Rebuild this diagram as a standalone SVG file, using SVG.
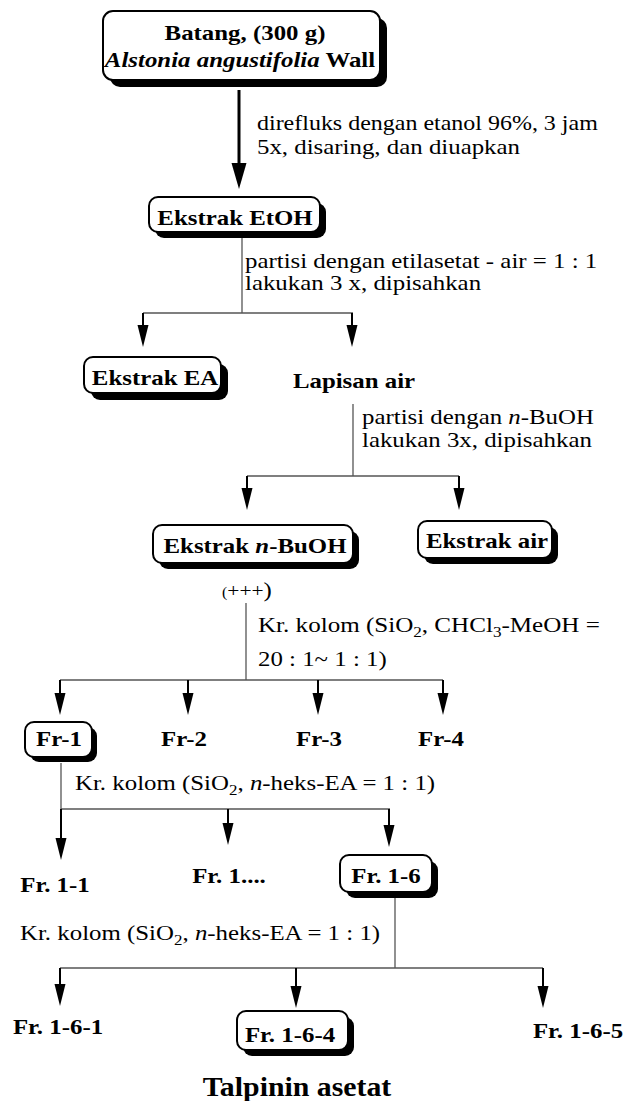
<svg xmlns="http://www.w3.org/2000/svg" xmlns:xlink="http://www.w3.org/1999/xlink" width="627" height="1101" viewBox="0 0 627 1101">
<defs>
<style>
.t{font-family:"Liberation Serif","Times New Roman",serif;font-size:22px;fill:#000}
.b{font-weight:bold}
.i{font-style:italic}
.sh{fill:#000}
.bx{fill:#fff;stroke:#000;stroke-width:2}
.ln{stroke:#555;stroke-width:1.3;fill:none}
.sf{stroke:#000;stroke-width:2;fill:none}
</style>
<path id="ah" d="M-5.5,-22 L5.5,-22 L0,0 Z" fill="#000"/>
<path id="ahb" d="M-7.5,-26 L7.5,-26 L0,0 Z" fill="#000"/>
</defs>
<rect width="627" height="1101" fill="#fff"/>

<g id="connectors">
  <line class="sf" x1="239" y1="90" x2="239" y2="166" style="stroke-width:3"/>
  <use xlink:href="#ahb" x="239" y="189"/>

  <line class="ln" x1="242" y1="238" x2="242" y2="313"/>
  <line class="ln" x1="143" y1="313" x2="353" y2="313"/>
  <line class="sf" x1="143" y1="313" x2="143" y2="326"/>
  <use xlink:href="#ah" x="143" y="347"/>
  <line class="sf" x1="352" y1="313" x2="352" y2="326"/>
  <use xlink:href="#ah" x="352" y="347"/>

  <line class="ln" x1="353" y1="404" x2="353" y2="476"/>
  <line class="ln" x1="247" y1="476" x2="459" y2="476"/>
  <line class="sf" x1="247" y1="476" x2="247" y2="489"/>
  <use xlink:href="#ah" x="247" y="510"/>
  <line class="sf" x1="459" y1="476" x2="459" y2="489"/>
  <use xlink:href="#ah" x="459" y="510"/>

  <line class="ln" x1="246" y1="603" x2="246" y2="680"/>
  <line class="ln" x1="60" y1="680" x2="443" y2="680"/>
  <line class="sf" x1="60" y1="680" x2="60" y2="694"/>
  <use xlink:href="#ah" x="60" y="715"/>
  <line class="sf" x1="188" y1="680" x2="188" y2="694"/>
  <use xlink:href="#ah" x="188" y="715"/>
  <line class="sf" x1="318" y1="680" x2="318" y2="694"/>
  <use xlink:href="#ah" x="318" y="715"/>
  <line class="sf" x1="443" y1="680" x2="443" y2="694"/>
  <use xlink:href="#ah" x="443" y="715"/>

  <line class="ln" x1="61" y1="763" x2="61" y2="809"/>
  <line class="ln" x1="61" y1="809" x2="390" y2="809"/>
  <line class="sf" x1="61" y1="809" x2="61" y2="839"/>
  <use xlink:href="#ah" x="61" y="860"/>
  <line class="sf" x1="228" y1="809" x2="228" y2="824"/>
  <use xlink:href="#ah" x="228" y="845"/>
  <line class="sf" x1="389" y1="809" x2="389" y2="826"/>
  <use xlink:href="#ah" x="389" y="847"/>

  <line class="ln" x1="395" y1="897" x2="395" y2="968"/>
  <line class="ln" x1="60" y1="968" x2="543" y2="968"/>
  <line class="sf" x1="60" y1="968" x2="60" y2="985"/>
  <use xlink:href="#ah" x="60" y="1006"/>
  <line class="sf" x1="296" y1="968" x2="296" y2="987"/>
  <use xlink:href="#ah" x="296" y="1008"/>
  <line class="sf" x1="543" y1="968" x2="543" y2="987"/>
  <use xlink:href="#ah" x="543" y="1008"/>
</g>

<g id="labels">
  <text class="t" transform="translate(257,130) scale(1.09,1)">direfluks dengan etanol 96%, 3 jam</text>
  <text class="t" transform="translate(257,154) scale(1.13,1)">5x, disaring, dan diuapkan</text>
  <text class="t" transform="translate(245,268) scale(1.13,1)">partisi dengan etilasetat - air = 1 : 1</text>
  <text class="t" transform="translate(245,290) scale(1.13,1)">lakukan 3 x, dipisahkan</text>
  <text class="t" transform="translate(362,424) scale(1.13,1)">partisi dengan <tspan class="i">n</tspan>-BuOH</text>
  <text class="t" transform="translate(362,447) scale(1.13,1)">lakukan 3x, dipisahkan</text>
  <text class="t" transform="translate(222,597) scale(1.13,1)"><tspan font-size="14">(</tspan><tspan font-size="19">+++</tspan>)</text>
  <text class="t" transform="translate(258,632) scale(1.14,1)">Kr. kolom (SiO<tspan font-size="15" dy="5">2</tspan><tspan dy="-5">, CHCl</tspan><tspan font-size="15" dy="5">3</tspan><tspan dy="-5">-MeOH =</tspan></text>
  <text class="t" transform="translate(258,666) scale(1.13,1)">20 : 1~ 1 : 1)</text>
  <text class="t" transform="translate(75,790) scale(1.13,1)">Kr. kolom (SiO<tspan font-size="15" dy="5">2</tspan><tspan dy="-5">, </tspan><tspan class="i">n</tspan>-heks-EA = 1 : 1)</text>
  <text class="t" transform="translate(20,940) scale(1.13,1)">Kr. kolom (SiO<tspan font-size="15" dy="5">2</tspan><tspan dy="-5">, </tspan><tspan class="i">n</tspan>-heks-EA = 1 : 1)</text>
</g>

<g id="n-batang">
  <rect class="sh" x="110" y="18" width="277" height="69" rx="10"/>
  <rect class="bx" x="103" y="11" width="277" height="69" rx="10"/>
  <text class="t b" text-anchor="middle" transform="translate(245,40) scale(1.13,1)">Batang, (300 g)</text>
  <text class="t b" text-anchor="middle" transform="translate(240,67) scale(1.13,1)"><tspan class="i">Alstonia angustifolia</tspan> Wall</text>
</g>

<g id="n-etoh">
  <rect class="sh" x="155" y="203" width="171" height="35" rx="9"/>
  <rect class="bx" x="149" y="197" width="171" height="35" rx="9"/>
  <text class="t b" text-anchor="middle" transform="translate(235,225) scale(1.13,1)">Ekstrak EtOH</text>
</g>

<g id="n-ea">
  <rect class="sh" x="91" y="364" width="137" height="36" rx="9"/>
  <rect class="bx" x="84" y="357" width="137" height="36" rx="9"/>
  <text class="t b" text-anchor="middle" transform="translate(155,385) scale(1.13,1)">Ekstrak EA</text>
</g>

<g id="n-lapisan">
  <text class="t b" text-anchor="middle" transform="translate(354,388) scale(1.13,1)">Lapisan air</text>
</g>

<g id="n-buoh">
  <rect class="sh" x="159" y="531" width="200" height="38" rx="9"/>
  <rect class="bx" x="153" y="525" width="200" height="38" rx="9"/>
  <text class="t b" text-anchor="middle" transform="translate(255,553) scale(1.13,1)">Ekstrak <tspan class="i">n</tspan>-BuOH</text>
</g>

<g id="n-air">
  <rect class="sh" x="424" y="527" width="134" height="37" rx="9"/>
  <rect class="bx" x="418" y="521" width="134" height="37" rx="9"/>
  <text class="t b" text-anchor="middle" transform="translate(487,548) scale(1.13,1)">Ekstrak air</text>
</g>

<g id="n-fr1">
  <rect class="sh" x="30" y="727" width="67" height="35" rx="9"/>
  <rect class="bx" x="25" y="722" width="67" height="35" rx="9"/>
  <text class="t b" text-anchor="middle" transform="translate(59,746) scale(1.13,1)">Fr-1</text>
</g>
<g id="n-fr2"><text class="t b" text-anchor="middle" transform="translate(184,746) scale(1.13,1)">Fr-2</text></g>
<g id="n-fr3"><text class="t b" text-anchor="middle" transform="translate(319,746) scale(1.13,1)">Fr-3</text></g>
<g id="n-fr4"><text class="t b" text-anchor="middle" transform="translate(441,746) scale(1.13,1)">Fr-4</text></g>

<g id="n-fr1-1"><text class="t b" text-anchor="middle" transform="translate(55,892) scale(1.13,1)">Fr. 1-1</text></g>
<g id="n-fr1-x"><text class="t b" text-anchor="middle" transform="translate(229,883) scale(1.13,1)">Fr. 1....</text></g>
<g id="n-fr1-6">
  <rect class="sh" x="346" y="861" width="92" height="37" rx="9"/>
  <rect class="bx" x="340" y="855" width="92" height="37" rx="9"/>
  <text class="t b" text-anchor="middle" transform="translate(386,883) scale(1.13,1)">Fr. 1-6</text>
</g>

<g id="n-fr1-6-1"><text class="t b" text-anchor="middle" transform="translate(58,1034) scale(1.13,1)">Fr. 1-6-1</text></g>
<g id="n-fr1-6-4">
  <rect class="sh" x="243" y="1017" width="111" height="39" rx="9"/>
  <rect class="bx" x="237" y="1011" width="111" height="39" rx="9"/>
  <text class="t b" text-anchor="middle" transform="translate(290,1042) scale(1.13,1)">Fr. 1-6-4</text>
</g>
<g id="n-fr1-6-5"><text class="t b" text-anchor="middle" transform="translate(578,1038) scale(1.13,1)">Fr. 1-6-5</text></g>

<g id="n-talpinin"><text class="t b" text-anchor="middle" style="font-size:28px" transform="translate(297,1096) scale(1.065,1)">Talpinin asetat</text></g>
</svg>
